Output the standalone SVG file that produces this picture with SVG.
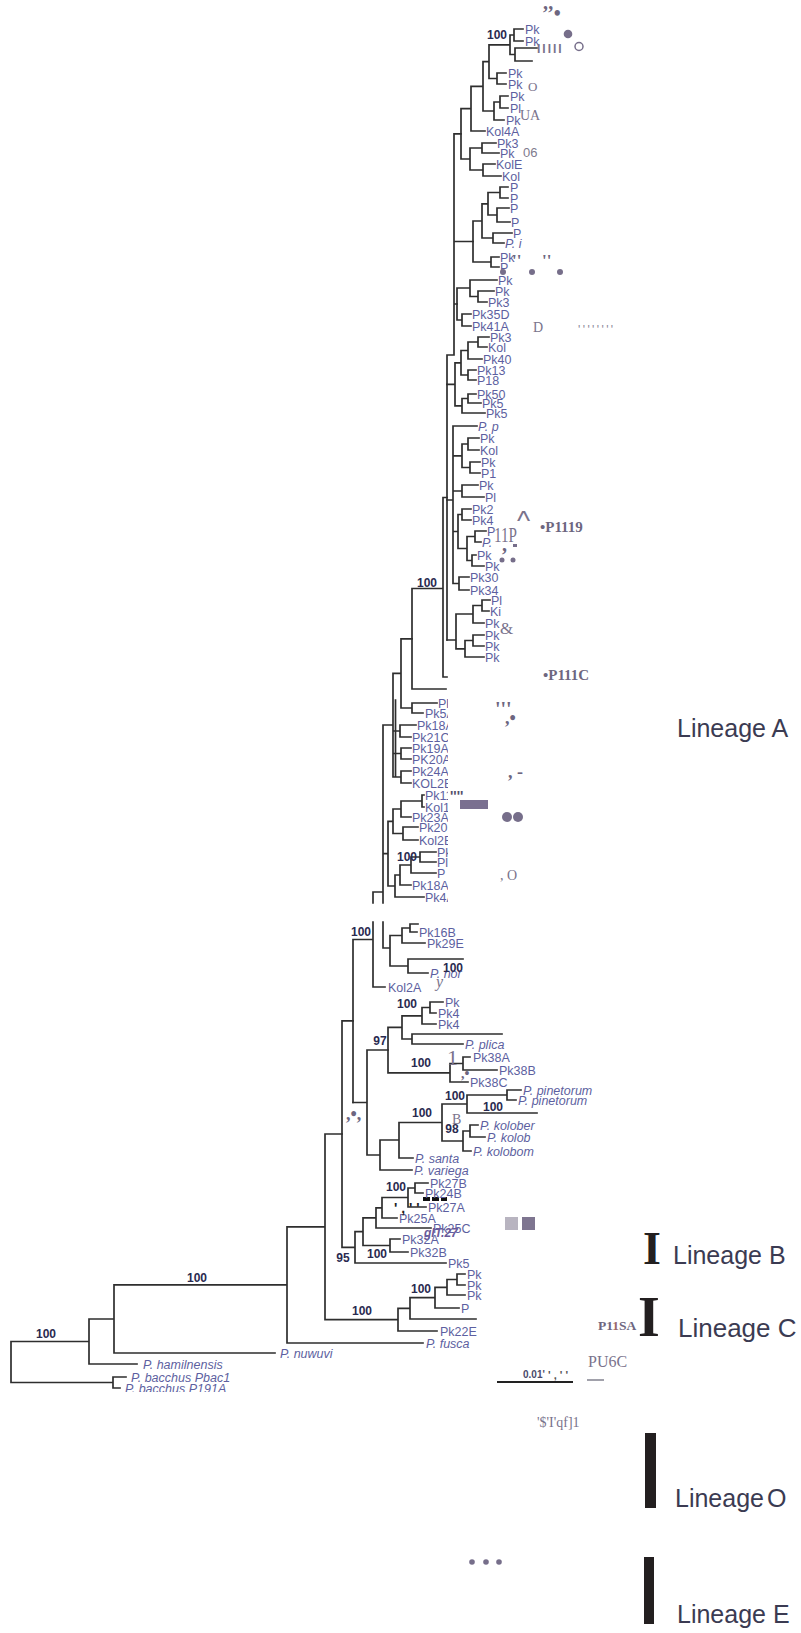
<svg xmlns="http://www.w3.org/2000/svg" width="801" height="1633" viewBox="0 0 801 1633">
<style>
.tr{fill:none;stroke:#2e2e2e;stroke-width:1.7;stroke-linecap:square}
.lf{font-family:"Liberation Sans",Arial,sans-serif;font-size:12.5px;fill:#5d5fa0}
.it{font-style:italic}
.bs{font-family:"Liberation Sans",Arial,sans-serif;font-size:12px;font-weight:bold;fill:#2a2a50;text-anchor:middle}
.gs{font-family:"Liberation Serif","Times New Roman",serif;fill:#7a738c}
.gb{font-family:"Liberation Serif","Times New Roman",serif;font-weight:bold;fill:#6d6680}
.ln{font-family:"Liberation Sans",Arial,sans-serif;font-size:25px;fill:#3b3b52}
.mk{fill:#766e8a}
</style>
<defs>
<clipPath id="clipLow"><rect x="0" y="690" width="448" height="215"/></clipPath>
<clipPath id="clipBot"><rect x="0" y="1380" width="400" height="12"/></clipPath>
</defs>
<rect x="0" y="0" width="801" height="1633" fill="#ffffff"/>

<g id="connectors">
<path class="tr" d="M514 29V41M514 29H523M514 41H523M515 48V61M515 48H537M515 61H532M510 35V54.5M510 35H514M510 54.5H515M497 73V84M497 73H506M497 84H506M489 44.8V78.5M489 44.8H510M489 78.5H497M500 96V108M500 96H508M500 108H508M494 102V120M494 102H500M494 120H504M483 61.6V111M483 61.6H489M483 111H494M471 86.3V131M471 86.3H483M471 131H485M482 143V153M482 143H496M482 153H499M483 164V176M483 164H495M483 176H501M470 148V170M470 148H482M470 170H483M461 108.7V159M461 108.7H471M461 159H470"/>
<path class="tr" d="M500 187V198M500 187H508M500 198H508M497 208V222M497 208H509M497 222H510M488 192.5V215M488 192.5H500M488 215H497M493 233V243M493 233H512M493 243H504M482 203.8V238M482 203.8H488M482 238H493M491 257V267M491 257H499M491 267H499M473 221V262M473 221H482M473 262H491"/>
<path class="tr" d="M478 291V302M478 291H494M478 302H487M470 280V296.5M470 280H497M470 296.5H478M462 314V326M462 314H471M462 326H471M457 288V320M457 288H470M457 320H462"/>
<path class="tr" d="M454 133.8V355M454 133.8H461M454 241.5H473M454 304H457M447 355V640M447 355H454"/>
<path class="tr" d="M478 337V347M478 337H489M478 347H487M468 342V359M468 342H478M468 359H482M468 370V380M468 370H476M468 380H476M461 350.5V375M461 350.5H468M461 375H468M468 394V403M468 394H476M468 403H481M462 398.5V413M462 398.5H468M462 413H485M455 362.8V405.8M455 362.8H461M455 405.8H462M447 384.3H455"/>
<path class="tr" d="M453 426V583.5M453 426H477M468 438V450M468 438H479M468 450H479M470 462V473M470 462H480M470 473H480M462 444V467.5M462 444H468M462 467.5H470M462 485V497M462 485H478M462 497H484M462 509V520M462 509H471M462 520H471M475 531V542M475 531H486M475 542H481M472 555V566M472 555H476M472 566H484M467 536.5V560.5M467 536.5H475M467 560.5H472M458 514.5V548.5M458 514.5H462M458 548.5H467M459 577V590M459 577H469M459 590H469M453 455.8H462M453 491H462M453 531.5H458M453 583.5H459M447 500H453"/>
<path class="tr" d="M482 600V611M482 600H490M482 611H489M473 605.5V623M473 605.5H482M473 623H484M473 635V646M473 635H484M473 646H484M465 640.5V657M465 640.5H473M465 657H484M456 614V648.8M456 614H473M456 648.8H465M447 640H456"/>
<path class="tr" d="M443 497.5V677M443 497.5H447M443 677H447M412 588.5V689M412 588.5H443M412 689H446"/>
<path class="tr" d="M401 638.8V708M401 638.8H412M412 703V713M412 703H437M412 713H423M401 708H412M400 725V737M400 725H416M400 737H411M401 748V759M401 748H411M401 759H411M401 771V783M401 771H411M401 783H411M393 673.4V777M393 673.4H401M393 731H400M393 753.5H401M393 777H401M395.5 700V777M422 795V807M422 795H424M422 807H424M401 801V817M401 801H422M401 817H411M403 827V840M403 827H418M403 840H418M393 809V833.5M393 809H401M393 833.5H403M420 852V862M420 852H436M420 862H436M411 857V873M411 857H420M411 873H436M400 865V885M400 865H411M400 885H411M395 875V897M395 875H400M395 897H424M388 821.3V886M388 821.3H393M388 886H395M383 725V903M383 725H393M383 853.6H388M373 892V903M373 892H383"/>
<path class="tr" d="M373 922V987M373 987H385M383 922V948M383 948H390M410 924V932M410 924H418M410 932H417M402 928V943M402 928H410M402 943H425M408 959V973M408 959H463M408 973H428M390 935.5V966M390 935.5H402M390 966H408M353 939.5V1102.5M353 939.5H373"/>
<path class="tr" d="M430 1002V1013M430 1002H443M430 1013H436M422 1007.5V1024M422 1007.5H430M422 1024H436M412 1034V1044M412 1034H502M412 1044H463M402 1015.8V1039M402 1015.8H422M402 1039H412M463 1057V1070M463 1057H470M463 1070H497M450 1063.5V1082M450 1063.5H463M450 1082H468M388 1027.4V1072.8M388 1027.4H402M388 1072.8H450"/>
<path class="tr" d="M507 1090V1100M507 1090H521M507 1100H516M467 1095V1113M467 1095H507M467 1113H537M470 1125V1137M470 1125H478M470 1137H485M463 1131V1151M463 1131H470M463 1151H471M442 1104V1141M442 1104H467M442 1141H463M399 1122.5V1158M399 1122.5H442M399 1158H413M380 1140V1170M380 1140H399M380 1170H412M367 1050V1155M367 1050H388M367 1155H380M353 1102.5H367"/>
<path class="tr" d="M415 1183V1193M415 1183H428M415 1193H423M408 1188V1207M408 1188H415M408 1207H426M382 1197.5V1218M382 1197.5H408M382 1218H397M376 1207.8V1228M376 1207.8H382M376 1228H431M390 1239V1252M390 1239H400M390 1252H408M363 1217.9V1245.5M363 1217.9H376M363 1245.5H390M355 1231.7V1263M355 1231.7H363M355 1263H446M342 1020.8V1247.4M342 1020.8H353M342 1247.4H355"/>
<path class="tr" d="M457 1274V1285M457 1274H465M457 1285H465M447 1279.5V1295M447 1279.5H457M447 1295H465M435 1287.3V1308M435 1287.3H447M435 1308H459M410 1297.6V1319M410 1297.6H435M410 1319H476M398 1308.3V1331M398 1308.3H410M398 1331H437M325 1134V1319.7M325 1134H342M325 1319.7H398M287 1226.8V1343M287 1226.8H325M287 1343H423M114 1284.9V1353M114 1284.9H287M114 1353H275M89 1319V1364M89 1319H114M89 1364H137M113 1377V1388M113 1377H126M113 1388H120M11 1341.5V1382.5M11 1341.5H89M11 1382.5H113"/>
<path d="M497 1382H573" stroke="#222" stroke-width="1.8"/>
<path d="M587 1380H604" stroke="#8a8a96" stroke-width="1.6"/>
<path d="M423 1199H447" stroke="#111" stroke-width="4" stroke-dasharray="7 2"/>
</g>

<g id="labels-lineageA-top">
<text class="lf" x="525" y="33.5">Pk</text><text class="lf" x="525" y="45.5">Pk</text>
<text class="lf" x="508" y="77.5">Pk</text><text class="lf" x="508" y="88.5">Pk</text>
<text class="lf" x="510" y="100.5">Pk</text><text class="lf" x="510" y="112.5">Pl</text>
<text class="lf" x="506" y="124.5">Pk</text><text class="lf" x="486" y="135.5">Kol4A</text>
<text class="lf" x="497" y="147.5">Pk3</text><text class="lf" x="500" y="157.5">Pk</text>
<text class="lf" x="496" y="168.5">KolE</text><text class="lf" x="502" y="180.5">Kol</text>
<text class="lf" x="510" y="191.5">P</text><text class="lf" x="510" y="202.5">P</text>
<text class="lf" x="510" y="212.5">P</text><text class="lf" x="511" y="226.5">P</text>
<text class="lf" x="513" y="237.5">P</text><text class="lf it" x="505" y="247.5">P. i</text>
<text class="lf" x="500" y="261.5">Pk</text><text class="lf" x="500" y="271.5">P</text>
<text class="lf" x="498" y="284.5">Pk</text><text class="lf" x="495" y="295.5">Pk</text>
<text class="lf" x="488" y="306.5">Pk3</text><text class="lf" x="472" y="318.5">Pk35D</text>
<text class="lf" x="472" y="330.5">Pk41A</text><text class="lf" x="490" y="341.5">Pk3</text>
<text class="lf" x="488" y="351.5">Kol</text><text class="lf" x="483" y="363.5">Pk40</text>
<text class="lf" x="477" y="374.5">Pk13</text><text class="lf" x="477" y="384.5">P18</text>
<text class="lf" x="477" y="398.5">Pk50</text><text class="lf" x="482" y="407.5">Pk5</text>
<text class="lf" x="486" y="417.5">Pk5</text><text class="lf it" x="478" y="430.5">P. p</text>
<text class="lf" x="480" y="442.5">Pk</text><text class="lf" x="480" y="454.5">Kol</text>
<text class="lf" x="481" y="466.5">Pk</text><text class="lf" x="481" y="477.5">P1</text>
<text class="lf" x="479" y="489.5">Pk</text><text class="lf" x="485" y="501.5">Pl</text>
<text class="lf" x="472" y="513.5">Pk2</text><text class="lf" x="472" y="524.5">Pk4</text>
<text class="lf" x="487" y="535.5">P</text><text class="lf it" x="482" y="546.5">P.</text>
<text class="lf" x="477" y="559.5">Pk</text><text class="lf" x="485" y="570.5">Pk</text>
<text class="lf" x="470" y="581.5">Pk30</text><text class="lf" x="470" y="594.5">Pk34</text>
<text class="lf" x="491" y="604.5">Pl</text><text class="lf" x="490" y="615.5">Ki</text>
<text class="lf" x="485" y="627.5">Pk</text><text class="lf" x="485" y="639.5">Pk</text>
<text class="lf" x="485" y="650.5">Pk</text><text class="lf" x="485" y="661.5">Pk</text>
</g>

<g id="labels-lineageA-low" clip-path="url(#clipLow)">
<text class="lf" x="438" y="707.5">Pk11</text><text class="lf" x="425" y="717.5">Pk5A</text>
<text class="lf" x="417" y="729.5">Pk18A</text><text class="lf" x="412" y="741.5">Pk21C</text>
<text class="lf" x="412" y="752.5">Pk19A</text><text class="lf" x="412" y="763.5">PK20A</text>
<text class="lf" x="412" y="775.5">Pk24A</text><text class="lf" x="412" y="787.5">KOL2B</text>
<text class="lf" x="425" y="799.5">Pk11A</text><text class="lf" x="425" y="811.5">Kol1A</text>
<text class="lf" x="412" y="821.5">Pk23A</text><text class="lf" x="419" y="831.5">Pk20B</text>
<text class="lf" x="419" y="844.5">Kol2B</text><text class="lf" x="437" y="856.5">Pk</text>
<text class="lf" x="437" y="866.5">Pl</text><text class="lf" x="437" y="877.5">P</text>
<text class="lf" x="412" y="889.5">Pk18A</text><text class="lf" x="425" y="901.5">Pk4A</text>
</g>

<g id="labels-lower">
<text class="lf" x="419" y="936.5">Pk16B</text><text class="lf" x="427" y="947.5">Pk29E</text>
<text class="lf it" x="430" y="977.5">P. nor</text><text class="lf" x="388" y="991.5">Kol2A</text>
<text class="lf" x="445" y="1006.5">Pk</text><text class="lf" x="438" y="1017.5">Pk4</text>
<text class="lf" x="438" y="1028.5">Pk4</text><text class="lf it" x="465" y="1048.5">P. plica</text>
<text class="lf" x="473" y="1061.5">Pk38A</text><text class="lf" x="499" y="1074.5">Pk38B</text>
<text class="lf" x="470" y="1086.5">Pk38C</text>
<text class="lf it" x="523" y="1094.5">P. pinetorum</text><text class="lf it" x="518" y="1104.5">P. pinetorum</text>
<text class="lf it" x="480" y="1129.5">P. kolober</text><text class="lf it" x="487" y="1141.5">P. kolob</text>
<text class="lf it" x="473" y="1155.5">P. kolobom</text><text class="lf it" x="415" y="1162.5">P. santa</text>
<text class="lf it" x="414" y="1174.5">P. variega</text>
<text class="lf" x="430" y="1187.5">Pk27B</text><text class="lf" x="425" y="1197.5">Pk24B</text>
<text class="lf" x="428" y="1211.5">Pk27A</text><text class="lf" x="399" y="1222.5">Pk25A</text>
<text class="lf" x="433" y="1232.5">Pk25C</text><text class="lf" x="402" y="1243.5">Pk32A</text>
<text class="lf" x="410" y="1256.5">Pk32B</text><text class="lf" x="448" y="1267.5">Pk5</text>
<text class="lf" x="467" y="1278.5">Pk</text><text class="lf" x="467" y="1289.5">Pk</text>
<text class="lf" x="467" y="1299.5">Pk</text><text class="lf" x="461" y="1312.5">P</text>
<text class="lf" x="440" y="1335.5">Pk22E</text><text class="lf it" x="426" y="1347.5">P. fusca</text>
<text class="lf it" x="280" y="1357.5">P. nuwuvi</text><text class="lf it" x="143" y="1368.5">P. hamilnensis</text>
<text class="lf it" x="131" y="1381.5">P. bacchus Pbac1</text>
<text class="lf it" x="125" y="1392.5" clip-path="url(#clipBot)">P. bacchus P191A</text>
</g>

<g id="support-values">
<text class="bs" x="497" y="39">100</text>
<text class="bs" x="427" y="587">100</text>
<text class="bs" x="407" y="861">100</text>
<text class="bs" x="361" y="936">100</text>
<text class="bs" x="453" y="972">100</text>
<text class="bs" x="407" y="1008">100</text>
<text class="bs" x="380" y="1045">97</text>
<text class="bs" x="421" y="1067">100</text>
<text class="bs" x="455" y="1100">100</text>
<text class="bs" x="493" y="1111">100</text>
<text class="bs" x="422" y="1117">100</text>
<text class="bs" x="452" y="1133">98</text>
<text class="bs" x="396" y="1191">100</text>
<text class="bs" x="377" y="1258">100</text>
<text class="bs" x="343" y="1262">95</text>
<text class="bs" x="421" y="1293">100</text>
<text class="bs" x="362" y="1315">100</text>
<text class="bs" x="197" y="1282">100</text>
<text class="bs" x="46" y="1338">100</text>
</g>

<g id="marks">
<text class="gb" x="542" y="20" font-size="20">’’•</text>
<circle class="mk" cx="568" cy="34" r="4.3"/>
<circle cx="579" cy="46.5" r="4" fill="none" stroke="#766e8a" stroke-width="1.5"/>
<text x="537" y="52.5" font-family="Liberation Sans,Arial,sans-serif" font-weight="bold" font-size="12" letter-spacing="2" fill="#7a738c">IIIII</text>
<text class="gs" x="528" y="91" font-size="13">O</text>
<text class="gs" x="520" y="120" font-size="14" fill="#8a8aa8">UA</text>
<text x="523" y="157" font-family="Liberation Sans,Arial,sans-serif" font-size="13" fill="#7f7b8e">06</text>
<text class="gb" x="512" y="266" font-size="17">''</text>
<text class="gb" x="542" y="266" font-size="17">''</text>
<circle class="mk" cx="503" cy="272" r="3"/><circle class="mk" cx="532" cy="272" r="3"/><circle class="mk" cx="560" cy="272" r="3"/>
<text class="gs" x="533" y="332" font-size="14" fill="#7d7fa0">D</text>
<text x="578" y="334" font-family="Liberation Sans,Arial,sans-serif" font-size="12" letter-spacing="2.4" fill="#8a8698">''''''''</text>
<text x="517" y="530" font-family="Liberation Sans,Arial,sans-serif" font-size="28" fill="#7a738c">^</text>
<text class="gb" x="540" y="532" font-size="15">•P1119</text>
<text class="gs" x="494" y="542" font-size="20" fill="#aaa6b6" textLength="23" lengthAdjust="spacingAndGlyphs">11P</text>
<text class="gb" x="502" y="551" font-size="20">,</text>
<rect class="mk" x="513" y="544" width="4" height="3"/>
<circle class="mk" cx="502" cy="560" r="2.5"/><circle class="mk" cx="513" cy="560" r="2.5"/>
<text class="gs" x="500" y="634" font-size="17" fill="#6d6a85">&amp;</text>
<text class="gb" x="543" y="680" font-size="15">•P111C</text>
<text class="gb" x="495" y="716" font-size="20">'''</text>
<text class="gb" x="505" y="724" font-size="18">,•</text>
<text class="gb" x="508" y="778" font-size="18">, -</text>
<text x="450" y="801" font-family="Liberation Sans,Arial,sans-serif" font-weight="bold" font-size="14" fill="#55506a">''''</text>
<rect x="460" y="800" width="28" height="9" fill="#7a7090"/>
<circle class="mk" cx="507" cy="817" r="5"/><circle class="mk" cx="518" cy="817" r="5"/>
<text class="gs" x="500" y="880" font-size="14" fill="#8a8698">, O</text>
<text class="gs" x="436" y="987" font-size="16" font-style="italic" fill="#7d6a9a">y</text>
<text class="gs" x="447" y="1065" font-size="22" fill="#8a8698">1</text>
<text class="gb" x="461" y="1078" font-size="14">,•</text>
<text class="gb" x="346" y="1120" font-size="18" fill="#6a5070">,•,</text>
<text class="gs" x="452" y="1124" font-size="14" fill="#8a8698">B</text>
<text x="394" y="1213" font-family="Liberation Sans,Arial,sans-serif" font-weight="bold" font-size="14" fill="#222">' , ' '</text>
<text x="424" y="1237" font-family="Liberation Sans,Arial,sans-serif" font-style="italic" font-weight="bold" font-size="12" fill="#6a5a9a">gIT.27</text>
<rect x="505" y="1217" width="13" height="13" fill="#b8b4c0"/>
<rect x="522" y="1217" width="13" height="13" fill="#7e7590"/>
<text class="gb" x="598" y="1330" font-size="13.5" fill="#8a8698">P1<tspan fill="#9a6a6a">1</tspan>SA</text>
<text class="gs" x="588" y="1367" font-size="16" fill="#8a8aa0">PU6C</text>
<text x="523" y="1378" font-family="Liberation Sans,Arial,sans-serif" font-weight="bold" font-size="10" fill="#4a4a6a">0.01'</text>
<text x="548" y="1379" font-family="Liberation Sans,Arial,sans-serif" font-weight="bold" font-size="11" fill="#555">' , ' '</text>
<text class="gs" x="537" y="1427" font-size="14" fill="#8a8a8a">'$'I'qf]1</text>
<circle class="mk" cx="472" cy="1562" r="2.8"/><circle class="mk" cx="486" cy="1562" r="2.8"/><circle class="mk" cx="499" cy="1562" r="2.8"/>
</g>

<g id="lineage-A"><text class="ln" x="677" y="737">Lineage A</text></g>
<g id="lineage-B">
<text x="643" y="1264" font-family="Liberation Serif,Times New Roman,serif" font-weight="bold" font-size="46" fill="#231f20">I</text>
<text class="ln" x="673" y="1264" font-size="24">Lineage B</text>
</g>
<g id="lineage-C">
<text x="638" y="1336" font-family="Liberation Serif,Times New Roman,serif" font-weight="bold" font-size="56" fill="#231f20">I</text>
<text class="ln" x="678" y="1337" style="font-size:26px">Lineage C</text>
</g>
<g id="lineage-O">
<rect x="645" y="1433" width="11" height="75" fill="#231f20"/>
<text class="ln" x="675" y="1507" word-spacing="-4">Lineage O</text>
</g>
<g id="lineage-E">
<rect x="644" y="1557" width="10" height="67" fill="#231f20"/>
<text class="ln" x="677" y="1623">Lineage E</text>
</g>
</svg>
